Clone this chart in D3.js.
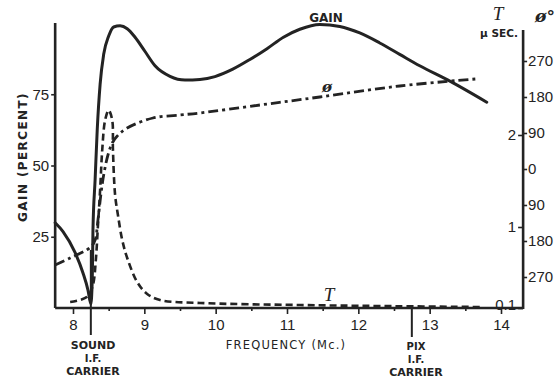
<!DOCTYPE html>
<html><head><meta charset="utf-8">
<script src="https://cdn.jsdelivr.net/npm/d3@7"></script>
<style>body{margin:0;background:#fff}</style>
</head><body><svg id="c" width="559" height="380"></svg>
<script>
// ---- data ----
const gainFreq = [7.75,7.86,8.03,8.14,8.21,8.25,8.27,8.28,8.31,8.34,8.38,8.43,8.50,8.57,8.66,8.76,8.87,9.01,9.15,9.36,9.57,9.78,9.99,10.24,10.48,10.72,10.95,11.18,11.46,11.74,12.02,12.30,12.58,12.86,13.29,13.80];
const gainVals = [29.9,26.8,19.4,12.3,6.3,1.4,9.9,27.5,45,62.7,78.5,89,95.4,98.6,99,98,95,90,85,81.3,80,80.2,81.2,83.8,87.2,91,95,97.8,99.5,98.8,96.5,93,89,85,79.5,72.2];

const phaseFreq = [7.75,7.96,8.25,8.31,8.35,8.39,8.43,8.49,8.55,8.62,8.76,9.12,9.50,9.78,10.62,11.46,12.58,13.64];
const phaseDeg  = [-240,-222.5,-195,-177.5,-127.5,-65,-15,35,65,82.5,102.5,127.5,135,140,160,180,207.5,225];

const tauFreq = [7.96,8.10,8.21,8.28,8.32,8.35,8.38,8.41,8.45,8.50,8.55,8.56,8.59,8.63,8.69,8.76,8.90,9.04,9.22,9.78,11.18,12.30,13.73];
const tauVals = [0.167,0.189,0.233,0.356,0.633,1.02,1.40,1.84,2.16,2.27,2.16,1.84,1.35,1.13,0.856,0.656,0.389,0.256,0.189,0.156,0.133,0.122,0.111];

const freqTicks = [8,9,10,11,12,13,14];
const freqMinor = [8.5,9.5,10.5,11.5,12.5,13.5];
const gainTicks = [25,50,75];
const phaseTicks = [-270,-180,-90,0,90,180,270];
const tauTicks = [0.1,1,2];

// ---- drawing ----
const svg = d3.select("#c");
svg.append("rect").attr("width",559).attr("height",380).attr("fill","#fff");
const ink = "#232323";
const numFont = "'Liberation Sans Narrow','Liberation Sans',sans-serif";
const lblFont = "'DejaVu Sans',sans-serif";

const x  = d3.scaleLinear().domain([8,14]).range([73,501]);
const yG = d3.scaleLinear().domain([0,100]).range([308,23]);
const yP = d3.scaleLinear().domain([-270,270]).range([277,61]);
const yT = d3.scaleLinear().domain([0.1,1,2]).range([308,227,135]);

const fMin = 7.75, fMax = 14.31;

// axes lines
svg.append("line").attr("x1",x(fMin)).attr("x2",x(fMax)).attr("y1",yG(0)).attr("y2",yG(0))
  .attr("stroke",ink).attr("stroke-width",2.6);
svg.append("line").attr("x1",x(fMin)).attr("x2",x(fMin)).attr("y1",yG(0)).attr("y2",yG(100))
  .attr("stroke",ink).attr("stroke-width",2.6);
svg.append("line").attr("x1",x(fMax)).attr("x2",x(fMax)).attr("y1",yG(0)+1).attr("y2",30)
  .attr("stroke",ink).attr("stroke-width",2.6);

function styleAxis(g, size){
  g.select(".domain").remove();
  g.selectAll("line").attr("stroke",ink).attr("stroke-width",1.6);
  g.selectAll("text").attr("fill",ink).attr("font-family",numFont).attr("font-size",size);
}

// bottom axis
const gx = svg.append("g").attr("transform",`translate(0,${yG(0)})`)
  .call(d3.axisBottom(x).tickValues(freqTicks).tickSize(6).tickPadding(5).tickFormat(d3.format("d")));
styleAxis(gx,15);
const gxm = svg.append("g").attr("transform",`translate(0,${yG(0)})`)
  .call(d3.axisBottom(x).tickValues(freqMinor).tickSize(3).tickFormat(""));
styleAxis(gxm,1);

// left axis
const gy = svg.append("g").attr("transform",`translate(${x(fMin)},0)`)
  .call(d3.axisLeft(yG).tickValues(gainTicks).tickSize(4).tickPadding(2));
styleAxis(gy,15);

// right axis: phase (right side) and tau (left side)
const gp = svg.append("g").attr("transform",`translate(${x(fMax)},0)`)
  .call(d3.axisRight(yP).tickValues(phaseTicks).tickSize(4).tickPadding(1).tickFormat(d=>Math.abs(d)));
styleAxis(gp,15);
const gt = svg.append("g").attr("transform",`translate(${x(fMax)},0)`)
  .call(d3.axisLeft(yT).tickValues(tauTicks).tickSize(5).tickPadding(2).tickFormat(d=>d===0.1?"0.1":d));
styleAxis(gt,15);
gt.selectAll("text").filter(d=>d===0.1).attr("dy","0.1em");

// curves
const lineG = d3.line().x((d,i)=>x(gainFreq[i])).y(d=>yG(d)).curve(d3.curveMonotoneX);
svg.append("path").attr("d",lineG(gainVals)).attr("fill","none").attr("stroke",ink)
  .attr("stroke-width",3).attr("stroke-linecap","round");

const lineP = d3.line().x((d,i)=>x(phaseFreq[i])).y(d=>yP(d)).curve(d3.curveCatmullRom.alpha(0.5));
svg.append("path").attr("d",lineP(phaseDeg)).attr("fill","none").attr("stroke",ink)
  .attr("stroke-width",2.8).attr("stroke-dasharray","10,4,3,4");

const lineT = d3.line().x((d,i)=>x(tauFreq[i])).y(d=>yT(d)).curve(d3.curveCatmullRom.alpha(0.5));
svg.append("path").attr("d",lineT(tauVals)).attr("fill","none").attr("stroke",ink)
  .attr("stroke-width",2.6).attr("stroke-dasharray","7,4");

// carrier markers
svg.append("line").attr("x1",x(8.25)).attr("x2",x(8.25)).attr("y1",250).attr("y2",335)
  .attr("stroke",ink).attr("stroke-width",2);
svg.append("line").attr("x1",x(12.75)).attr("x2",x(12.75)).attr("y1",yG(0)).attr("y2",337)
  .attr("stroke",ink).attr("stroke-width",2);

// text helper
function txt(s,xx,yy,opt={}){
  const t = svg.append("text").attr("x",xx).attr("y",yy).text(s)
    .attr("fill",ink).attr("font-family",opt.font||lblFont).attr("font-size",opt.size||11)
    .attr("text-anchor",opt.anchor||"middle");
  if(opt.weight) t.attr("font-weight",opt.weight);
  if(opt.style) t.attr("font-style",opt.style);
  if(opt.rotate) t.attr("transform",`rotate(${opt.rotate},${xx},${yy})`);
  if(opt.ls) t.attr("letter-spacing",opt.ls);
  return t;
}
txt("GAIN",326,22,{size:12,weight:"bold"});
txt("ø",327,92,{size:15,style:"italic",weight:"bold",font:"'DejaVu Serif',serif"});
txt("T",329,301,{size:19,style:"italic",font:"'Liberation Serif',serif"});
txt("GAIN  (PERCENT)",27,157,{size:12,weight:"bold",rotate:-90,ls:1.4});
txt("FREQUENCY  (Mc.)",286,349,{size:11.5,ls:1.2});
txt("SOUND",93,349,{size:11,weight:"bold"});
txt("I.F.",93,362,{size:10,weight:"bold"});
txt("CARRIER",93,375,{size:11,weight:"bold"});
txt("PIX",416,350,{size:10,weight:"bold"});
txt("I.F.",416,363,{size:10,weight:"bold"});
txt("CARRIER",416,376,{size:11,weight:"bold"});
txt("T",498,20,{size:19,style:"italic",font:"'Liberation Serif',serif"});
txt("μ SEC.",499,37,{size:10.5,weight:"bold"});
txt("ø°",545,22,{size:17,style:"italic",weight:"bold",font:"'DejaVu Serif',serif"});
</script></body></html>
